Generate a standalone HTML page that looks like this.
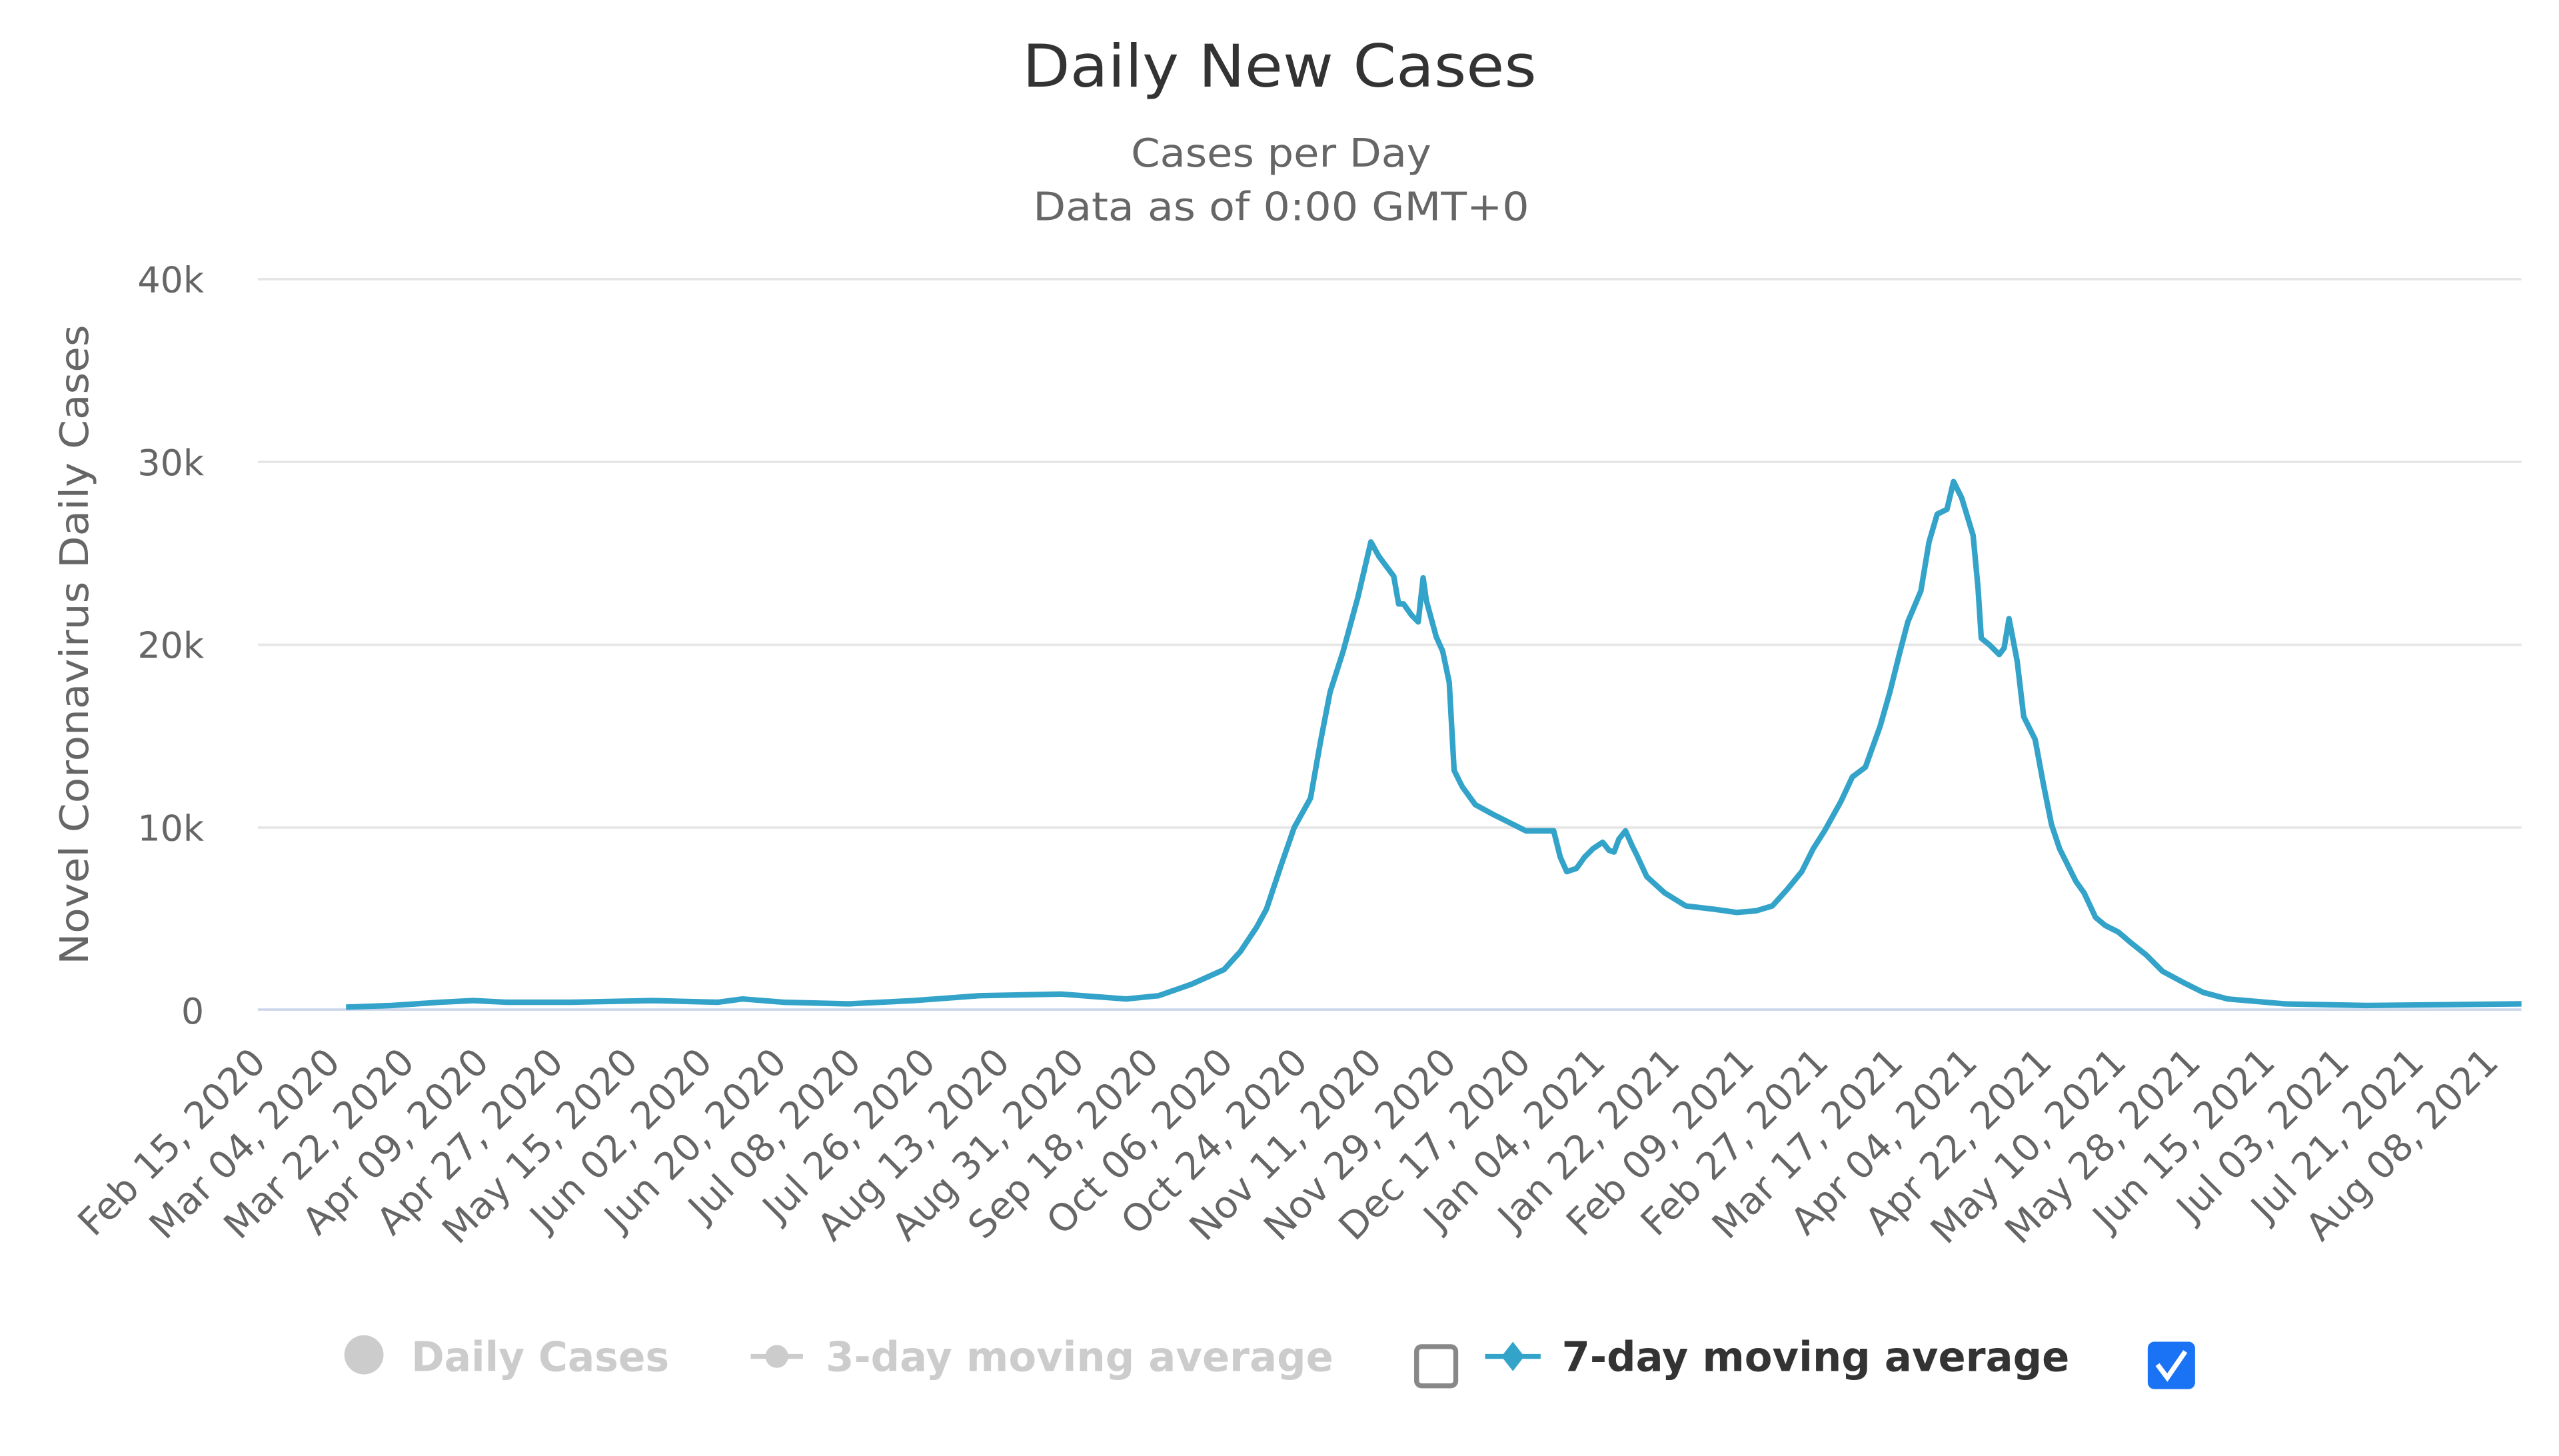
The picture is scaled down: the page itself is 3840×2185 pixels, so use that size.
<!DOCTYPE html>
<html><head><meta charset="utf-8"><style>html,body{margin:0;padding:0;background:#fff;}svg{display:block;}</style></head>
<body>
<svg width="3840" height="2185" viewBox="0 0 1568 892" preserveAspectRatio="none" xmlns="http://www.w3.org/2000/svg" font-family="'DejaVu Sans','Liberation Sans',sans-serif">
<rect width="1568" height="892" fill="#fff"/>
<text x="784" y="53" text-anchor="middle" font-size="36" fill="#333" textLength="315" lengthAdjust="spacingAndGlyphs">Daily New Cases</text>
<text x="785" y="102" text-anchor="middle" font-size="24" fill="#666" textLength="184" lengthAdjust="spacingAndGlyphs">Cases per Day</text>
<text x="785" y="135" text-anchor="middle" font-size="24" fill="#666" textLength="304" lengthAdjust="spacingAndGlyphs">Data as of 0:00 GMT+0</text>
<g stroke="#e6e6e6" stroke-width="1.5">
<line x1="158" y1="171" x2="1545" y2="171"/>
<line x1="158" y1="283" x2="1545" y2="283"/>
<line x1="158" y1="395" x2="1545" y2="395"/>
<line x1="158" y1="507" x2="1545" y2="507"/>
</g>
<line x1="158" y1="618.5" x2="1545" y2="618.5" stroke="#ccd6eb" stroke-width="1.5"/>
<g font-size="22" fill="#666" text-anchor="end">
<text x="125" y="179">40k</text>
<text x="125" y="291">30k</text>
<text x="125" y="403">20k</text>
<text x="125" y="515">10k</text>
<text x="125" y="627">0</text>
</g>
<text transform="translate(54,395) rotate(-90)" text-anchor="middle" font-size="24" fill="#666" textLength="392" lengthAdjust="spacingAndGlyphs">Novel Coronavirus Daily Cases</text>
<g font-size="23" fill="#666" text-anchor="end">
<text transform="translate(164.0,652) rotate(-45)">Feb 15, 2020</text>
<text transform="translate(209.6,652) rotate(-45)">Mar 04, 2020</text>
<text transform="translate(255.2,652) rotate(-45)">Mar 22, 2020</text>
<text transform="translate(300.8,652) rotate(-45)">Apr 09, 2020</text>
<text transform="translate(346.4,652) rotate(-45)">Apr 27, 2020</text>
<text transform="translate(392.0,652) rotate(-45)">May 15, 2020</text>
<text transform="translate(437.6,652) rotate(-45)">Jun 02, 2020</text>
<text transform="translate(483.2,652) rotate(-45)">Jun 20, 2020</text>
<text transform="translate(528.8,652) rotate(-45)">Jul 08, 2020</text>
<text transform="translate(574.4,652) rotate(-45)">Jul 26, 2020</text>
<text transform="translate(620.0,652) rotate(-45)">Aug 13, 2020</text>
<text transform="translate(665.6,652) rotate(-45)">Aug 31, 2020</text>
<text transform="translate(711.2,652) rotate(-45)">Sep 18, 2020</text>
<text transform="translate(756.8,652) rotate(-45)">Oct 06, 2020</text>
<text transform="translate(802.4,652) rotate(-45)">Oct 24, 2020</text>
<text transform="translate(848.0,652) rotate(-45)">Nov 11, 2020</text>
<text transform="translate(893.6,652) rotate(-45)">Nov 29, 2020</text>
<text transform="translate(939.2,652) rotate(-45)">Dec 17, 2020</text>
<text transform="translate(984.8,652) rotate(-45)">Jan 04, 2021</text>
<text transform="translate(1030.4,652) rotate(-45)">Jan 22, 2021</text>
<text transform="translate(1076.0,652) rotate(-45)">Feb 09, 2021</text>
<text transform="translate(1121.6,652) rotate(-45)">Feb 27, 2021</text>
<text transform="translate(1167.2,652) rotate(-45)">Mar 17, 2021</text>
<text transform="translate(1212.8,652) rotate(-45)">Apr 04, 2021</text>
<text transform="translate(1258.4,652) rotate(-45)">Apr 22, 2021</text>
<text transform="translate(1304.0,652) rotate(-45)">May 10, 2021</text>
<text transform="translate(1349.6,652) rotate(-45)">May 28, 2021</text>
<text transform="translate(1395.2,652) rotate(-45)">Jun 15, 2021</text>
<text transform="translate(1440.8,652) rotate(-45)">Jul 03, 2021</text>
<text transform="translate(1486.4,652) rotate(-45)">Jul 21, 2021</text>
<text transform="translate(1532.0,652) rotate(-45)">Aug 08, 2021</text>
</g>
<polyline fill="none" stroke="#33a3c9" stroke-width="3.4" stroke-linejoin="round" points="212,617 240,616 270,614 290,613 310,614 350,614 400,613 440,614 455,612 480,614 520,615 560,613 600,610 650,609 690,612 710,610 730,603 750,594 760,583 770,568 776,557 785,530 793,507 803,489 809,455 815,424 823,399 832,366 840,332 845,341 854,353 857,370 860,370 865,377 869,381 872,354 874,368 880,390 884,399 888,418 891,472 896,482 904,493 915,499 925,504 935,509 944,509 952,509 956,525 960,534 966,532 971,525 976,520 982,516 986,521 989,522 992,514 996,509 1000,518 1003,524 1009,537 1020,547 1033,555 1050,557 1064,559 1076,558 1086,555 1095,545 1104,534 1111,520 1118,509 1128,491 1135,476 1143,470 1152,445 1158,424 1164,400 1169,381 1177,362 1182,332 1187,315 1193,312 1197,295 1202,305 1209,328 1212,360 1214,391 1219,395 1225,401 1228,397 1231,379 1236,405 1240,439 1247,453 1252,480 1257,505 1262,520 1267,530 1272,540 1277,547 1284,562 1290,567 1298,571 1305,577 1315,585 1325,595 1338,602 1350,608 1365,612 1400,615 1450,616 1545,615"/>
<g font-weight="bold" font-size="25">
<circle cx="223" cy="830" r="12" fill="#ccc"/>
<text x="252" y="840" fill="#ccc" textLength="158" lengthAdjust="spacingAndGlyphs">Daily Cases</text>
<line x1="460" y1="831" x2="492" y2="831" stroke="#ccc" stroke-width="3"/>
<circle cx="476" cy="831" r="7" fill="#ccc"/>
<text x="506" y="840" fill="#ccc" textLength="311" lengthAdjust="spacingAndGlyphs">3-day moving average</text>
<rect x="868" y="825" width="24" height="24" rx="3" fill="#fff" stroke="#888" stroke-width="3"/>
<line x1="910" y1="831" x2="944" y2="831" stroke="#33a3c9" stroke-width="3"/>
<path d="M927,822 L934,831 L927,840 L920,831 Z" fill="#33a3c9"/>
<text x="957" y="840" fill="#333" textLength="311" lengthAdjust="spacingAndGlyphs">7-day moving average</text>
<rect x="1316" y="822" width="29" height="29" rx="4" fill="#1a73f5"/>
<path d="M1322,836 L1328,844 L1339,828" fill="none" stroke="#fff" stroke-width="3"/>
</g>
</svg>
</body></html>
